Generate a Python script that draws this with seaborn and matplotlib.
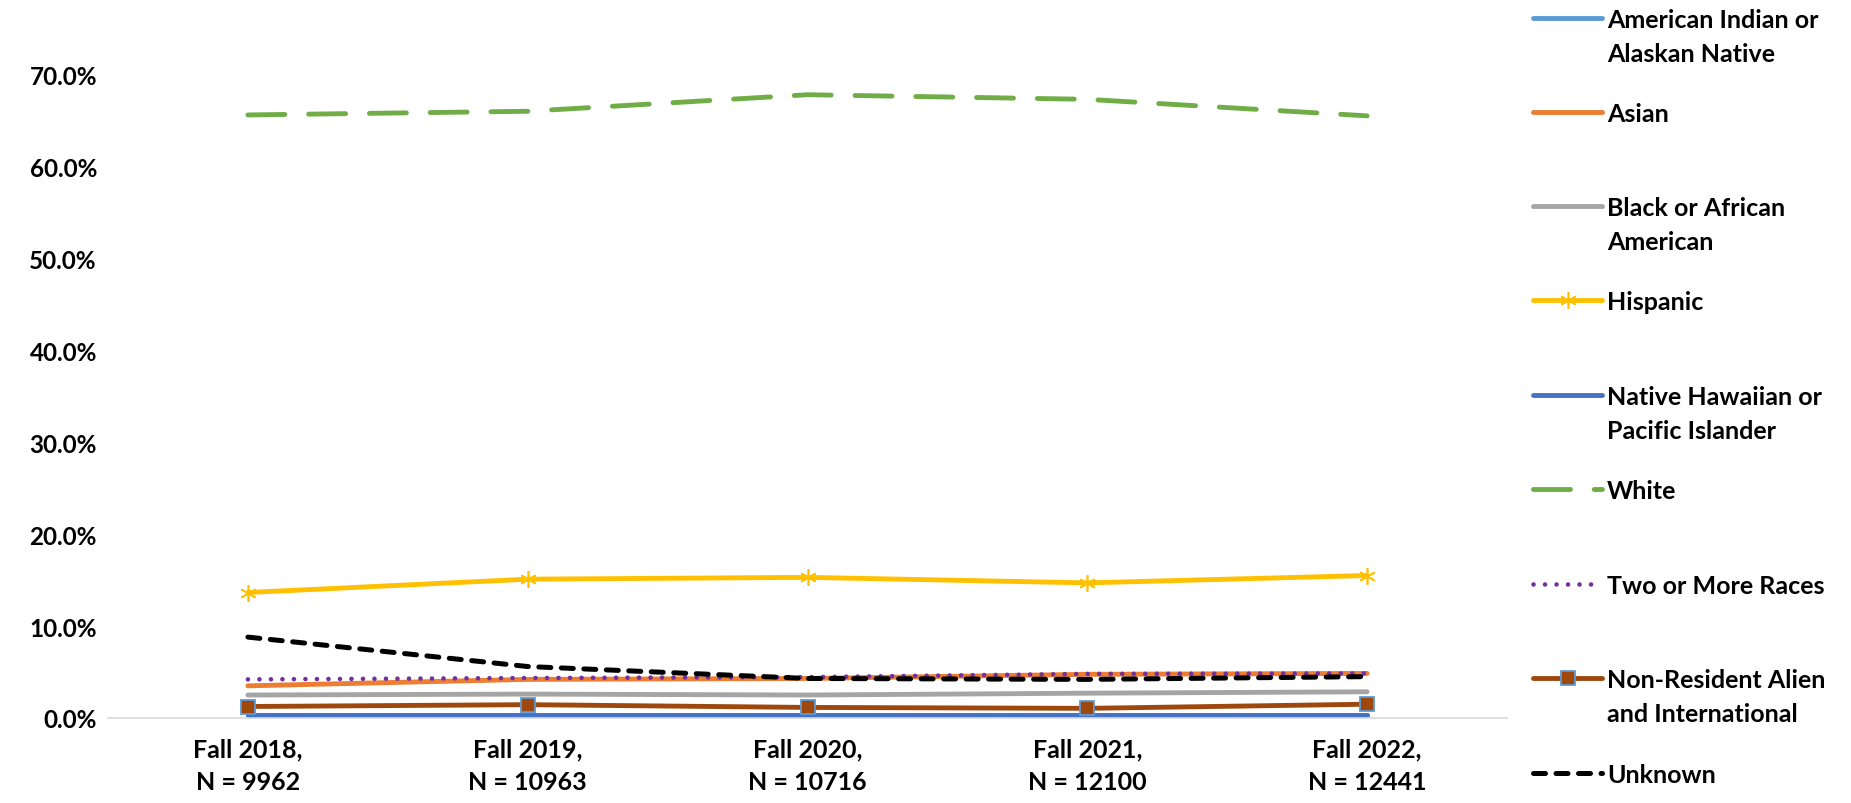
import numpy as np
import pandas as pd
import matplotlib
matplotlib.use("Agg")
import matplotlib.pyplot as plt
from matplotlib.lines import Line2D
from matplotlib.ticker import FuncFormatter
import seaborn as sns

# ---------------- data ----------------
terms = ["Fall 2018,\nN = 9962", "Fall 2019,\nN = 10963", "Fall 2020,\nN = 10716",
         "Fall 2021,\nN = 12100", "Fall 2022,\nN = 12441"]
series_names = ["American Indian or\nAlaskan Native", "Asian", "Black or African\nAmerican",
                "Hispanic", "Native Hawaiian or\nPacific Islander", "White",
                "Two or More Races", "Non-Resident Alien\nand International", "Unknown"]
american_indian = [0.3, 0.3, 0.3, 0.3, 0.3]
asian = [3.5, 4.2, 4.3, 4.75, 4.85]
black = [2.5, 2.6, 2.5, 2.7, 2.85]
hispanic = [13.65, 15.1, 15.3, 14.7, 15.5]
native_hawaiian = [0.3, 0.3, 0.3, 0.3, 0.3]
white = [65.6, 66.0, 67.8, 67.3, 65.5]
two_or_more = [4.2, 4.35, 4.45, 4.8, 4.85]
non_resident = [1.25, 1.45, 1.15, 1.05, 1.5]
unknown = [8.8, 5.6, 4.3, 4.2, 4.5]
y_ticks = [0, 10, 20, 30, 40, 50, 60, 70]

values = [american_indian, asian, black, hispanic, native_hawaiian, white,
          two_or_more, non_resident, unknown]

# ---------------- styles ----------------
LW = 3.5
styles = [
    dict(color="#5B9BD5", linestyle="-"),
    dict(color="#ED7D31", linestyle="-"),
    dict(color="#A5A5A5", linestyle="-"),
    dict(color="#FFC000", linestyle="-", marker=(6, 2, 0), markersize=12,
         markeredgewidth=1.2, markeredgecolor="#FFC000"),
    dict(color="#4472C4", linestyle="-"),
    dict(color="#70AD47", linestyle=(0, (7.6, 4.9))),
    dict(color="#7030A0", linestyle=(0, (0.01, 2.5)), lw=3.3),
    dict(color="#9E480E", linestyle="-", marker="s", markersize=10.5,
         markerfacecolor="#9E480E", markeredgecolor="#5B9BD5", markeredgewidth=1.3),
    dict(color="#000000", linestyle=(0, (2.4, 2.1)), lw=3.6),
]

sns.set_theme(style="white")
plt.rcParams["font.family"] = ["Lato", "DejaVu Sans"]

W, H = 1851, 804
fig = plt.figure(figsize=(W / 100, H / 100), dpi=100)
ax = fig.add_axes([108 / W, (H - 719) / H, (1507 - 108) / W, (719 - 75.5) / H])

x = np.arange(len(terms))
for vals, st in zip(values, styles):
    kw = dict(st)
    lw = kw.pop("lw", LW)
    df = pd.DataFrame({"x": x, "y": vals})
    sns.lineplot(data=df, x="x", y="y", ax=ax, lw=lw, errorbar=None,
                 solid_capstyle="round", dash_capstyle="round", clip_on=False, **kw)

ax.set_xlim(-0.5, len(terms) - 0.5)
ax.set_ylim(0, 70)
ax.set_xlabel("")
ax.set_ylabel("")
ax.set_yticks(y_ticks)
ax.yaxis.set_major_formatter(FuncFormatter(lambda v, p: f"{v:.1f}%"))
ax.set_xticks(x)
ax.set_xticklabels(terms, linespacing=1.5)
for lab in ax.get_yticklabels():
    lab.set_fontweight("bold")
    lab.set_fontsize(17.5)
    lab.set_color("black")
for lab in ax.get_xticklabels():
    lab.set_fontweight("bold")
    lab.set_fontsize(18)
    lab.set_color("black")
ax.tick_params(axis="y", length=0, pad=8)
ax.tick_params(axis="x", length=0, pad=14)
for s in ["left", "right", "top"]:
    ax.spines[s].set_visible(False)
ax.spines["bottom"].set_color("#D9D9D9")
ax.spines["bottom"].set_linewidth(1.2)
ax.grid(False)

# ---------------- legend (drawn to match Excel layout) ----------------
legend_y = [19, 113, 207, 301, 396, 490, 585, 679, 774]
hx0, hx1, tx = 1533, 1602, 1607
for name, st, yy in zip(series_names, styles, legend_y):
    kw = dict(st)
    lw = kw.pop("lw", LW)
    marker = kw.pop("marker", None)
    mkw = {k: kw.pop(k) for k in list(kw) if k.startswith("marker")}
    yf = 1 - yy / H
    fig.add_artist(Line2D([hx0 / W, hx1 / W], [yf, yf], transform=fig.transFigure,
                          lw=lw, solid_capstyle="round", dash_capstyle="round", **kw))
    if marker is not None:
        fig.add_artist(Line2D([(hx0 + hx1) / 2 / W], [yf], transform=fig.transFigure,
                              marker=marker, linestyle="none", color=kw["color"], **mkw))
    for i, line in enumerate(name.split("\n")):
        fig.text(tx / W, 1 - (yy + 9 + 34 * i) / H, line, fontsize=18,
                 fontweight="bold", color="black", va="baseline", ha="left")

fig.savefig("out.png", dpi=100, facecolor="white")
